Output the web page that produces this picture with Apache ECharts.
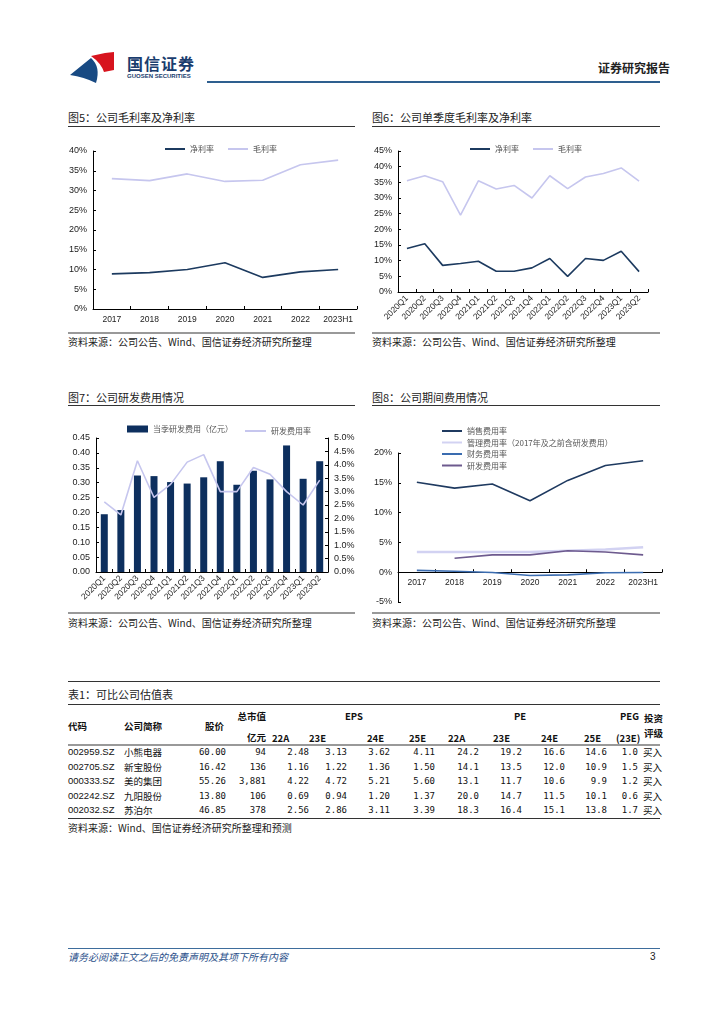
<!DOCTYPE html>
<html><head><meta charset="utf-8">
<script src="https://cdn.jsdelivr.net/npm/echarts/dist/echarts.min.js"></script>
<style>
html,body{margin:0;padding:0;background:#fff}
body{width:724px;height:1024px;position:relative;overflow:hidden;font-family:"Noto Sans CJK SC","DejaVu Sans",sans-serif;color:#222}
.a{position:absolute;white-space:nowrap}
.title{font-size:11px;line-height:14px;color:#222}
.src{font-size:10px;line-height:12px;color:#222}
.hl{position:absolute;height:0}
.chart{position:absolute}
.tb{font-size:9.5px;line-height:12px;color:#111}
.th{font-size:9.5px;line-height:12px;color:#111;font-weight:bold}
.num{font-family:"DejaVu Sans Mono","Liberation Mono",monospace;font-size:9px;line-height:12px;color:#111;text-align:right}
.code{font-family:"Liberation Sans",Arial,sans-serif;font-size:9.5px;line-height:12px;color:#111}
</style></head>
<body>
<!-- header -->
<svg class="a" style="left:60px;top:46px" width="70" height="42">
  <path d="M31 10 L45 7 L54 6 L54 24 L44 26 Q41 17 31 10 Z" fill="#d7141e"/>
  <path d="M10 29 L31 12 Q41 21 36 37 Q24 31 10 29 Z" fill="#184a83"/>
</svg>
<div class="a" style="left:127px;top:54px;font-size:16px;font-weight:bold;color:#1a3d6e;letter-spacing:1px;line-height:18px">国信证券</div>
<div class="a" style="left:127px;top:73px;font-size:6px;font-weight:bold;color:#1a3d6e;font-family:'Liberation Sans',sans-serif;line-height:7px">GUOSEN SECURITIES</div>
<div class="hl" style="left:207px;top:81px;width:453px;border-top:2px solid #2e5f8f"></div>
<div class="a" style="left:598px;top:60px;font-size:12px;font-weight:bold;color:#222;line-height:15px">证券研究报告</div>

<!-- titles -->
<div class="a title" style="left:68px;top:110px">图5：公司毛利率及净利率</div>
<div class="hl" style="left:68px;top:126px;width:287px;border-top:1px solid #333"></div>
<div class="a title" style="left:372px;top:110px">图6：公司单季度毛利率及净利率</div>
<div class="hl" style="left:372px;top:126px;width:288px;border-top:1px solid #333"></div>

<div id="c1" class="chart" style="left:60px;top:130px;width:300px;height:200px"></div>
<div id="c2" class="chart" style="left:365px;top:130px;width:300px;height:200px"></div>

<div class="hl" style="left:68px;top:332px;width:287px;border-top:2px solid #999"></div>
<div class="hl" style="left:372px;top:332px;width:288px;border-top:2px solid #999"></div>
<div class="a src" style="left:68px;top:336px">资料来源：公司公告、Wind、国信证券经济研究所整理</div>
<div class="a src" style="left:372px;top:336px">资料来源：公司公告、Wind、国信证券经济研究所整理</div>

<div class="a title" style="left:68px;top:390px">图7：公司研发费用情况</div>
<div class="hl" style="left:68px;top:405px;width:287px;border-top:1px solid #333"></div>
<div class="a title" style="left:372px;top:390px">图8：公司期间费用情况</div>
<div class="hl" style="left:372px;top:405px;width:288px;border-top:1px solid #333"></div>

<div id="c3" class="chart" style="left:60px;top:406px;width:300px;height:204px"></div>
<div id="c4" class="chart" style="left:365px;top:406px;width:300px;height:204px"></div>

<div class="hl" style="left:68px;top:612px;width:287px;border-top:2px solid #999"></div>
<div class="hl" style="left:372px;top:612px;width:288px;border-top:2px solid #999"></div>
<div class="a src" style="left:68px;top:617px">资料来源：公司公告、Wind、国信证券经济研究所整理</div>
<div class="a src" style="left:372px;top:617px">资料来源：公司公告、Wind、国信证券经济研究所整理</div>

<!-- table -->
<div class="hl" style="left:68px;top:681px;width:592px;border-top:1.5px solid #333"></div>
<div class="a title" style="left:68px;top:687px">表1：可比公司估值表</div>
<div class="hl" style="left:68px;top:704px;width:592px;border-top:1.5px solid #333"></div>
<div id="table"></div>
<div class="hl" style="left:68px;top:744px;width:592px;border-top:2px solid #999"></div>
<div class="hl" style="left:68px;top:818px;width:592px;border-top:1.5px solid #333"></div>
<div class="a src" style="left:68px;top:822px">资料来源：Wind、国信证券经济研究所整理和预测</div>

<!-- footer -->
<div class="hl" style="left:68px;top:948px;width:592px;border-top:1px solid #3e6d9c"></div>
<div class="a" style="left:68px;top:951px;font-size:10px;font-style:italic;color:#2a4f8a;line-height:12px">请务必阅读正文之后的免责声明及其项下所有内容</div>
<div class="a" style="left:650px;top:951px;font-size:10px;color:#222;line-height:12px;font-family:'Liberation Sans',sans-serif">3</div>

<script>
// ---------- data ----------
const yearCats = ['2017','2018','2019','2020','2021','2022','2023H1'];
const netMarginAnnual = [8.9, 9.2, 10.0, 11.7, 8.0, 9.4, 10.0];
const grossMarginAnnual = [33.0, 32.5, 34.2, 32.3, 32.6, 36.5, 37.7];

const quarterCats = ['2020Q1','2020Q2','2020Q3','2020Q4','2021Q1','2021Q2','2021Q3','2021Q4','2022Q1','2022Q2','2022Q3','2022Q4','2023Q1','2023Q2'];
const netMarginQ = [13.9, 15.4, 8.5, 9.1, 9.8, 6.6, 6.6, 7.7, 10.7, 5.0, 10.7, 10.1, 13.0, 6.5];
const grossMarginQ = [35.5, 37.1, 35.2, 24.5, 35.5, 32.9, 34.0, 30.0, 37.1, 33.0, 36.7, 37.8, 39.6, 35.4];

const rdExpenseQ = [0.194, 0.208, 0.324, 0.322, 0.302, 0.297, 0.318, 0.372, 0.293, 0.340, 0.311, 0.425, 0.313, 0.372];
const rdRatioQ = [2.62, 2.13, 4.15, 2.78, 3.27, 4.10, 4.38, 3.00, 3.00, 3.90, 3.65, 3.00, 2.50, 3.43];

const sellingRatio = [15.1, 14.1, 14.8, 12.0, 15.4, 17.9, 18.7];
const adminRatio = [3.4, 3.4, 3.4, 3.4, 3.6, 3.8, 4.2];
const financeRatio = [0.3, 0.15, -0.05, -0.55, -0.45, -0.1, -0.05];
const rdRatioAnnual = [null, 2.35, 2.9, 2.9, 3.6, 3.4, 2.9];

const tCodes = ['002959.SZ','002705.SZ','000333.SZ','002242.SZ','002032.SZ'];
const tNames = ['小熊电器','新宝股份','美的集团','九阳股份','苏泊尔'];
const tPrice = ['60.00','16.42','55.26','13.80','46.85'];
const tMcap = ['94','136','3,881','106','378'];
const tEps = [['2.48','3.13','3.62','4.11'],['1.16','1.22','1.36','1.50'],['4.22','4.72','5.21','5.60'],['0.69','0.94','1.20','1.37'],['2.56','2.86','3.11','3.39']];
const tPe = [['24.2','19.2','16.6','14.6'],['14.1','13.5','12.0','10.9'],['13.1','11.7','10.6','9.9'],['20.0','14.7','11.5','10.1'],['18.3','16.4','15.1','13.8']];
const tPeg = ['1.0','1.5','1.2','0.6','1.7'];
const tRating = ['买入','买入','买入','买入','买入'];
const tSubHead = ['22A','23E','24E','25E'];

// ---------- helpers ----------
const FONT = 'Liberation Sans, Arial, sans-serif';
const lab = {color:'#222', fontSize:9, fontFamily:FONT};
const axLine = {show:true, onZero:true, lineStyle:{color:'#000', width:1}};
const tick = {show:true, inside:true, length:3, lineStyle:{color:'#000'}};
const legText = {fontSize:8, color:'#555', fontFamily:'Noto Sans CJK SC'};
const gridBase = {containLabel:false, outerBoundsMode:'none'};

// Chart 1
const c1 = echarts.init(document.getElementById('c1'));
c1.setOption({
  animation:false,
  grid:Object.assign({left:33, right:3, top:21, bottom:21}, gridBase),
  legend:{top:10, left:100, icon:'rect', itemWidth:20, itemHeight:2, itemGap:14, textStyle:legText, data:['净利率','毛利率']},
  xAxis:{type:'category', data:yearCats, boundaryGap:true, axisLine:axLine, axisTick:tick, axisLabel:Object.assign({margin:6, interval:0, hideOverlap:false}, lab, {fontSize:8.5})},
  yAxis:{type:'value', min:0, max:40, interval:5, axisLine:axLine, axisTick:tick, splitLine:{show:false}, axisLabel:Object.assign({formatter:'{value}%', margin:6}, lab)},
  series:[
    {name:'净利率', type:'line', data:netMarginAnnual, symbol:'none', lineStyle:{color:'#1c3a5f', width:1.6}, itemStyle:{color:'#1c3a5f'}},
    {name:'毛利率', type:'line', data:grossMarginAnnual, symbol:'none', lineStyle:{color:'#c6c6ee', width:1.6}, itemStyle:{color:'#c6c6ee'}}
  ]
});

// Chart 2
const c2 = echarts.init(document.getElementById('c2'));
c2.setOption({
  animation:false,
  grid:Object.assign({left:33, right:17, top:21, bottom:38}, gridBase),
  legend:{top:10, left:100, icon:'rect', itemWidth:20, itemHeight:2, itemGap:14, textStyle:legText, data:['净利率','毛利率']},
  xAxis:{type:'category', data:quarterCats, boundaryGap:true, axisLine:axLine, axisTick:tick, axisLabel:Object.assign({rotate:45, margin:5, interval:0, hideOverlap:false}, lab, {fontSize:8.5})},
  yAxis:{type:'value', min:0, max:45, interval:5, axisLine:axLine, axisTick:tick, splitLine:{show:false}, axisLabel:Object.assign({formatter:'{value}%', margin:6}, lab)},
  series:[
    {name:'净利率', type:'line', data:netMarginQ, symbol:'none', lineStyle:{color:'#1c3a5f', width:1.6}, itemStyle:{color:'#1c3a5f'}},
    {name:'毛利率', type:'line', data:grossMarginQ, symbol:'none', lineStyle:{color:'#c6c6ee', width:1.6}, itemStyle:{color:'#c6c6ee'}}
  ]
});

// Chart 3
const c3 = echarts.init(document.getElementById('c3'));
c3.setOption({
  animation:false,
  grid:Object.assign({left:36, right:32, top:32, bottom:38}, gridBase),
  legend:[
    {top:14, left:62, icon:'rect', itemWidth:21, itemHeight:7, textStyle:legText, data:['当季研发费用（亿元）']},
    {top:16, left:180, icon:'rect', itemWidth:21, itemHeight:2, textStyle:legText, data:['研发费用率']}
  ],
  xAxis:{type:'category', data:quarterCats, boundaryGap:true, axisLine:axLine, axisTick:tick, axisLabel:Object.assign({rotate:45, margin:5, interval:0, hideOverlap:false}, lab, {fontSize:8.5})},
  yAxis:[
    {type:'value', min:0, max:0.45, interval:0.05, axisLine:axLine, axisTick:tick, splitLine:{show:false}, axisLabel:Object.assign({formatter:v=>v.toFixed(2), margin:6}, lab)},
    {type:'value', min:0, max:5, interval:0.5, position:'right', axisLine:axLine, axisTick:tick, splitLine:{show:false}, axisLabel:Object.assign({formatter:v=>v.toFixed(1)+'%', margin:6}, lab)}
  ],
  series:[
    {name:'当季研发费用（亿元）', type:'bar', data:rdExpenseQ, barWidth:7, itemStyle:{color:'#0d2f5e'}},
    {name:'研发费用率', type:'line', yAxisIndex:1, data:rdRatioQ, symbol:'none', lineStyle:{color:'#c6c6ee', width:1.6}, itemStyle:{color:'#c6c6ee'}}
  ]
});

// Chart 4
const c4 = echarts.init(document.getElementById('c4'));
const c4x = {type:'category', data:yearCats, boundaryGap:true, axisLine:{show:true, onZero:false, lineStyle:{color:'#000', width:1}}, axisTick:tick, axisLabel:Object.assign({margin:6, interval:0, hideOverlap:false}, lab, {fontSize:8.5})};
c4.setOption({
  animation:false,
  grid:Object.assign({left:33, right:3, top:47, bottom:8}, gridBase),
  legend:{orient:'vertical', top:16, left:72, icon:'rect', itemWidth:20, itemHeight:2, itemGap:3.5, textStyle:legText,
    data:['销售费用率','管理费用率（2017年及之前含研发费用）','财务费用率','研发费用率']},
  xAxis:c4x,
  yAxis:{type:'value', min:-5, max:20, interval:5, axisLine:axLine, axisTick:tick, splitLine:{show:false}, axisLabel:Object.assign({formatter:'{value}%', margin:6}, lab)},
  series:[
    {name:'销售费用率', type:'line', data:sellingRatio, symbol:'none', lineStyle:{color:'#1f3a60', width:1.6}, itemStyle:{color:'#1f3a60'}},
    {name:'管理费用率（2017年及之前含研发费用）', type:'line', data:adminRatio, symbol:'none', lineStyle:{color:'#d2d2f2', width:2.5}, itemStyle:{color:'#d2d2f2'}},
    {name:'财务费用率', type:'line', data:financeRatio, symbol:'none', lineStyle:{color:'#3a6cb0', width:1.6}, itemStyle:{color:'#3a6cb0'}},
    {name:'研发费用率', type:'line', data:rdRatioAnnual, symbol:'none', lineStyle:{color:'#6d5a8e', width:1.6}, itemStyle:{color:'#6d5a8e'}}
  ]
});
// move the category axis (line, ticks, labels) up to the zero value using the value axis scale
(function(){
  const zeroY = c4.convertToPixel({yAxisIndex:0}, 0);
  const minY = c4.convertToPixel({yAxisIndex:0}, -5);
  c4.setOption({xAxis:{offset:-(minY - zeroY)}});
})();

// ---------- table ----------
(function(){
  const host = document.getElementById('table');
  let html = '';
  const put = (cls, left, top, txt, rightAlign) => {
    if (rightAlign) html += `<div class="a ${cls}" style="left:${left-60}px;width:60px;top:${top}px;text-align:right">${txt}</div>`;
    else html += `<div class="a ${cls}" style="left:${left}px;top:${top}px">${txt}</div>`;
  };
  put('th', 68, 720, '代码');
  put('th', 124, 720, '公司简称');
  put('th', 205, 720, '股价');
  put('th', 266, 710, '总市值', true);
  put('th', 266, 731, '亿元', true);
  put('th', 345, 710, 'EPS');
  put('th', 514, 710, 'PE');
  put('th', 620, 710, 'PEG');
  put('th', 644, 712, '投资');
  put('th', 644, 727, '评级');
  const subL = [272, 309, 367, 409, 448, 493, 541, 584];
  for (let i = 0; i < 8; i++) put('th', subL[i], 732, tSubHead[i % 4]);
  put('th', 616, 732, '(23E)');
  const epsR = [309, 347, 390, 435], peR = [479, 522, 565, 607];
  for (let r = 0; r < tCodes.length; r++) {
    const y = 746 + r * 14.5;
    put('code', 68, y, tCodes[r]);
    put('tb', 124, y, tNames[r]);
    put('num', 226, y, tPrice[r], true);
    put('num', 266, y, tMcap[r], true);
    for (let k = 0; k < 4; k++) put('num', epsR[k], y, tEps[r][k], true);
    for (let k = 0; k < 4; k++) put('num', peR[k], y, tPe[r][k], true);
    put('num', 638, y, tPeg[r], true);
    put('tb', 643, y, tRating[r]);
  }
  host.innerHTML = html;
})();
</script>
</body></html>
